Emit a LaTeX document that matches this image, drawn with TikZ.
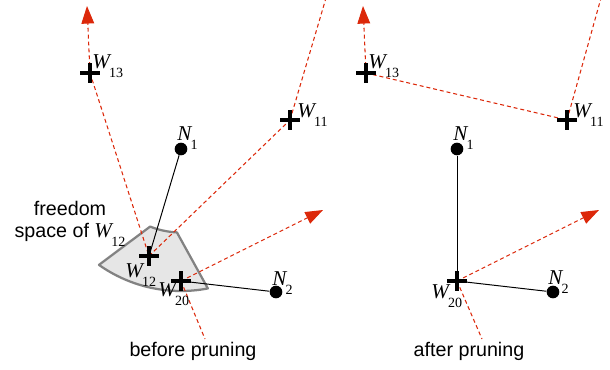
\documentclass[tikz,border=0pt]{standalone}
\usepackage{fontspec}
\setmainfont{Liberation Sans}
\newfontfamily\labfont{Liberation Serif}
\usetikzlibrary{arrows.meta,calc}

\definecolor{trackred}{RGB}{220,40,10}
\definecolor{zonegray}{RGB}{230,230,230}
\definecolor{zoneedge}{RGB}{130,130,130}

% point label: italic letter with a low index
\newcommand{\ptlab}[2]{{\labfont\fontsize{15}{15}\selectfont\itshape #1}\kern-0.5pt\raisebox{-6.5pt}{\labfont\fontsize{10}{10}\selectfont #2}}

\tikzset{
  track/.style={draw=trackred,line width=0.75pt,dash pattern=on 2.8pt off 2.1pt},
  heading/.style={-{Triangle[length=12.5pt,width=9pt]},trackred},
  link/.style={draw=black,line width=0.7pt},
  dot/.style={circle,fill=black,inner sep=0pt,minimum size=9pt},
  lab/.style={anchor=base west,inner sep=0pt},
  caption/.style={anchor=base,inner sep=0pt,font=\fontsize{14}{16}\selectfont},
  zone/.style={fill=zonegray,draw=zoneedge,line width=1.6pt,line join=round},
  waypt/.pic={\draw[line width=2.2pt] (-7pt,0) -- (7pt,0) (0,-7pt) -- (0,7pt);}
}

\begin{document}
\begin{tikzpicture}[x=0.025cm,y=-0.025cm]
  \useasboundingbox (0,0) rectangle (610,369);

  % before pruning
  \coordinate (w13a) at (90,73);
  \coordinate (w12a) at (149,256);
  \coordinate (w11a) at (290,120);
  \coordinate (w20a) at (181,281);
  \coordinate (t13a) at (87,6);
  \coordinate (t11a) at (326,-2);
  \coordinate (t20a) at (323,210);
  \coordinate (s20a) at (205,339);
  \node[dot] (n1a) at (181,149) {};
  \node[dot] (n2a) at (276,292) {};

  % freedom space of W12
  \draw[zone] (n1a.center) ++(125.3:142) arc[start angle=125.3,end angle=79.1,radius=142]
    -- ($(n1a.center)+(92.8:83.5)$) arc[start angle=92.8,end angle=111.7,radius=83.5] -- cycle;

  \draw[track,heading] (w13a) -- (t13a);
  \draw[track] (w13a) -- (w12a);
  \draw[track] (w12a) -- (w11a);
  \draw[track] (w11a) -- (t11a);
  \draw[track,heading] (w20a) -- (t20a);
  \draw[track] (w20a) -- (s20a);
  \draw[link] (n1a) -- (w12a);
  \draw[link] (w20a) -- (n2a);
  \foreach \p in {w13a,w12a,w11a,w20a} \pic at (\p) {waypt};

  \node[lab] (l13a) at (92,68) {\ptlab{W}{13}};
  \node[lab] (l11a) at (297,117) {\ptlab{W}{11}};
  \node[lab] (l12a) at (125,277) {\ptlab{W}{12}};
  \node[lab] (l20a) at (158,296) {\ptlab{W}{20}};
  \node[lab] (ln1a) at (177,140) {\ptlab{N}{1}};
  \node[lab] (ln2a) at (272,285) {\ptlab{N}{2}};
  \node[align=center,inner sep=0pt,font=\fontsize{14}{15.6}\selectfont] (zonetxt) at (70,224)
    {freedom\\space of \ptlab{W}{12}};
  \node[caption] (before) at (193,356) {before pruning};

  % after pruning
  \coordinate (w13b) at (366,73);
  \coordinate (w11b) at (567,120);
  \coordinate (w20b) at (457,281);
  \coordinate (t13b) at (363,6);
  \coordinate (t11b) at (601,-2);
  \coordinate (t20b) at (599,210);
  \coordinate (s20b) at (482,339);
  \node[dot] (n1b) at (457,149) {};
  \node[dot] (n2b) at (553,292) {};

  \draw[track,heading] (w13b) -- (t13b);
  \draw[track] (w13b) -- (w11b);
  \draw[track] (w11b) -- (t11b);
  \draw[track,heading] (w20b) -- (t20b);
  \draw[track] (w20b) -- (s20b);
  \draw[link] (n1b) -- (w20b);
  \draw[link] (w20b) -- (n2b);
  \foreach \p in {w13b,w11b,w20b} \pic at (\p) {waypt};

  \node[lab] (l13b) at (368,68) {\ptlab{W}{13}};
  \node[lab] (l11b) at (573,117) {\ptlab{W}{11}};
  \node[lab] (l20b) at (431,298) {\ptlab{W}{20}};
  \node[lab] (ln1b) at (453,140) {\ptlab{N}{1}};
  \node[lab] (ln2b) at (548,284) {\ptlab{N}{2}};
  \node[caption] (after) at (469,356) {after pruning};
\end{tikzpicture}
\end{document}
